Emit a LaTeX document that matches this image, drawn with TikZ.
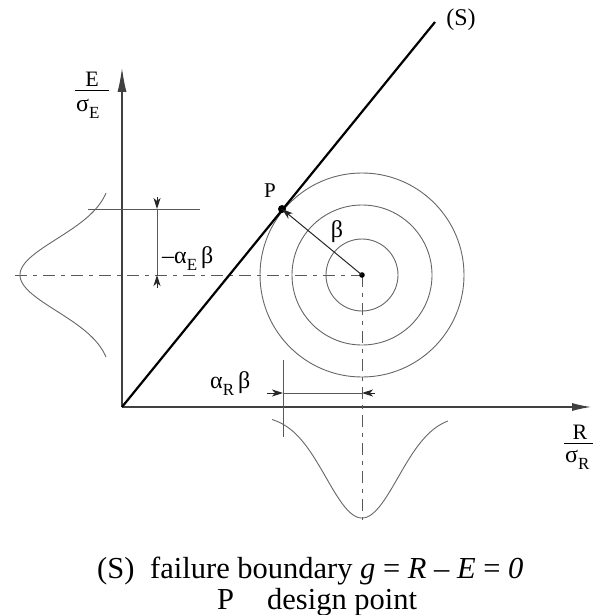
\documentclass[tikz,border=0pt]{standalone}
\usepackage{fontspec}
\setmainfont{Liberation Serif}
\usetikzlibrary{arrows.meta}
\newcommand{\lowsub}[1]{\raisebox{-0.32em}{\fontsize{17}{17}\selectfont #1}}
\tikzset{
  axisline/.style={draw=black!75, line width=1.1pt},
  thinline/.style={draw=black!65, line width=0.9pt},
  ring/.style={draw=black!60, line width=0.9pt},
  bell/.style={draw=black!60, line width=0.9pt},
  centerline/.style={draw=black!65, line width=0.9pt, dash pattern=on 12pt off 6pt on 4pt off 6pt},
  boundary/.style={draw=black, line width=2.2pt},
  dimtip/.style={-{Stealth[length=11pt,width=7pt,inset=3pt]}, draw=black!85, line width=1pt},
  lbl/.style={inner sep=0pt, font=\fontsize{22}{24}\selectfont},
  greeklbl/.style={inner sep=0pt, font=\fontsize{24}{26}\selectfont},
  captext/.style={inner sep=0pt, font=\fontsize{30.5}{33}\selectfont},
}
\begin{document}
\begin{tikzpicture}[x=1pt, y=-1pt]
\useasboundingbox (0,0) rectangle (593,615);
% key points
\coordinate (O) at (122,407);
\coordinate (Ytip) at (122,68);
\coordinate (Xtip) at (591,407);
\coordinate (Send) at (435,22);
\coordinate (C) at (362,275);
\coordinate (P) at (282,209);
% circles
\draw[ring] (C) circle[radius=36];
\draw[ring] (C) circle[radius=70];
\draw[ring] (C) circle[radius=102];
% axes
\draw[axisline, -{Latex[length=24pt,width=9pt]}] (O) -- (Ytip);
\draw[axisline, -{Latex[length=19pt,width=8pt]}] (O) -- (Xtip);
% centre lines
\coordinate (Hl) at (15,275);
\coordinate (Vb) at (362,520);
\draw[centerline] (Hl) -- (C);
\draw[centerline] (C) -- (Vb);
% bell curves
\draw[bell] plot[domain=-82:82, samples=90, smooth] ({113-93*exp(-(\x/36)*(\x/36)/2)},{275+\x});
\draw[bell] plot[domain=-90:86, samples=90, smooth] ({362+\x},{415+103*exp(-(\x/36)*(\x/36)/2)});
% failure boundary
\draw[boundary] (O) -- (Send);
\node[lbl, font=\fontsize{24}{26}\selectfont] (Slbl) at (461,20) {(S)};
% design point
\fill (P) circle[radius=4];
\fill (C) circle[radius=2.8];
\draw[dimtip] (C) -- (P);
\node[lbl, font=\fontsize{21}{23}\selectfont] (Plbl) at (270,191) {P};
\node[greeklbl] (blbl) at (337,232) {β};
% vertical dimension (alpha_E beta)
\coordinate (Ha) at (88,209);
\coordinate (Hb) at (200,209);
\draw[thinline] (Ha) -- (Hb);
\coordinate (Da) at (157,209);
\coordinate (Db) at (157,275);
\coordinate (Da0) at (157,197);
\coordinate (Db0) at (157,288);
\draw[thinline] (Da) -- (Db);
\draw[dimtip] (Da0) -- (Da);
\draw[dimtip] (Db0) -- (Db);
\node[greeklbl, anchor=base west] (aE) at (162,263) {–α\lowsub{E}\,β};
% horizontal dimension (alpha_R beta)
\coordinate (Ea) at (283,360);
\coordinate (Eb) at (283,437);
\draw[thinline] (Ea) -- (Eb);
\coordinate (Ra) at (283,393);
\coordinate (Rb) at (362,393);
\coordinate (Ra0) at (267,393);
\coordinate (Rb0) at (375,393);
\draw[thinline] (Ra) -- (Rb);
\draw[dimtip] (Ra0) -- (Ra);
\draw[dimtip] (Rb0) -- (Rb);
\node[greeklbl, anchor=base west] (aR) at (210,388) {α\lowsub{R}\,β};
% axis labels
\node[lbl, anchor=base] (Ey) at (92,87) {E};
\coordinate (Fa) at (75,91);
\coordinate (Fb) at (109,91);
\draw[line width=1pt] (Fa) -- (Fb);
\node[greeklbl, anchor=base west] (sE) at (76,111) {σ\lowsub{E}};
\node[lbl, anchor=base] (Rx) at (580,439) {R};
\coordinate (Ga) at (564,443);
\coordinate (Gb) at (598,443);
\draw[line width=1pt] (Ga) -- (Gb);
\node[greeklbl, anchor=base west] (sR) at (565,462) {σ\lowsub{R}};
% caption
\node[captext, anchor=base west] (c1) at (97,578) {(S)};
\node[captext, anchor=base west] (c2) at (150,578) {failure boundary \textit{g} = \textit{R} – \textit{E} = \textit{0}};
\node[captext, anchor=base west] (c3) at (217,609) {P};
\node[captext, anchor=base west] (c4) at (267,609) {design point};
\end{tikzpicture}
\end{document}
